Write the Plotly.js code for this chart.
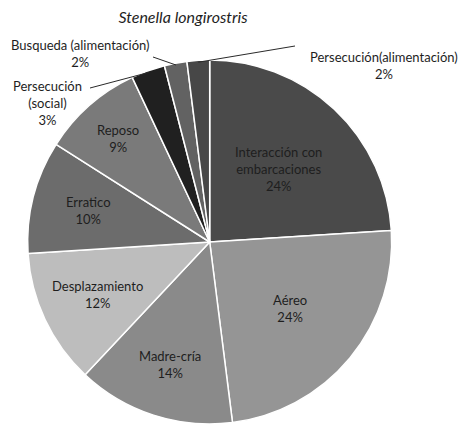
<!DOCTYPE html>
<html>
<head>
<meta charset="utf-8">
<script src="https://cdn.plot.ly/plotly-3.0.1.min.js"></script>
<style>
  html, body { margin: 0; padding: 0; background: #fff; }
  #chart { width: 458px; height: 424px; }
</style>
</head>
<body>
<div id="chart"></div>
<script>
// Behaviour categories of Stenella longirostris (clockwise from 12 o'clock)
var categories = [
  'Interacción con<br>embarcaciones',
  'Aéreo',
  'Madre-cría',
  'Desplazamiento',
  'Erratico',
  'Reposo',
  'Persecución<br>(social)',
  'Busqueda (alimentación)',
  'Persecución(alimentación)'
];
// Share of observations (%)
var shares = [24, 24, 14, 12, 10, 9, 3, 2, 2];

var sliceColors = ['#4a4a4a', '#959595', '#8a8a8a', '#bdbdbd', '#6c6c6c',
                   '#7a7a7a', '#202020', '#626262', '#474747'];

// Page geometry
var W = 458, H = 424;
var CX = 209.7, CY = 242, R = 182;   // pie centre and radius in px

// Label placement: radius as a fraction of R for inside labels
var insideRadius = [0.55, 0.57, 0.71, 0.68, 0.69, 0.76];
// Outside labels (index -> text centre in px and leader-line end in px)
var outsideLabels = {
  6: {tx: 47,  ty: 103, lx: 90,  ly: 88},
  7: {tx: 80,  ty: 53,  lx: 153, ly: 57},
  8: {tx: 384, ty: 65,  lx: 295, ly: 46}
};

function px2x(px) { return px / W; }
function py2y(py) { return 1 - py / H; }

var total = shares.reduce(function (a, b) { return a + b; }, 0);
var annotations = [];
var shapes = [];
var labelFont = {family: 'Lato, "Open Sans", sans-serif', size: 13, color: '#1e1e1e'};

var cum = 0;
shares.forEach(function (v, i) {
  var mid = (cum + v / 2) / total * 2 * Math.PI;   // clockwise from top
  cum += v;
  var pct = Math.round(v / total * 100) + '%';
  var text = categories[i] + '<br>' + pct;
  if (outsideLabels[i]) {
    var o = outsideLabels[i];
    var sx = CX + R * 0.99 * Math.sin(mid);
    var sy = CY - R * 0.99 * Math.cos(mid);
    shapes.push({
      type: 'line', xref: 'paper', yref: 'paper',
      x0: px2x(sx), y0: py2y(sy), x1: px2x(o.lx), y1: py2y(o.ly),
      line: {color: '#2a2a2a', width: 1}
    });
    annotations.push({
      xref: 'paper', yref: 'paper', x: px2x(o.tx), y: py2y(o.ty),
      xanchor: 'center', yanchor: 'middle', showarrow: false,
      text: text, font: labelFont, align: 'center'
    });
  } else {
    var r = R * insideRadius[i];
    annotations.push({
      xref: 'paper', yref: 'paper',
      x: px2x(CX + r * Math.sin(mid)), y: py2y(CY - r * Math.cos(mid)),
      xanchor: 'center', yanchor: 'middle', showarrow: false,
      text: text, font: labelFont, align: 'center'
    });
  }
});

var trace = {
  type: 'pie',
  labels: categories,
  values: shares,
  sort: false,
  direction: 'clockwise',
  rotation: 0,
  textinfo: 'none',
  hoverinfo: 'none',
  showlegend: false,
  marker: {colors: sliceColors, line: {color: '#ffffff', width: 1.5}},
  domain: {x: [px2x(CX - R), px2x(CX + R)], y: [py2y(CY + R), py2y(CY - R)]}
};

var layout = {
  width: W, height: H,
  margin: {l: 0, r: 0, t: 0, b: 0},
  paper_bgcolor: '#ffffff',
  title: {
    text: '<i>Stenella longirostris</i>',
    x: 183 / W, xanchor: 'center',
    y: 1 - 17 / H, yanchor: 'middle', yref: 'container',
    font: {family: 'Lato, "Open Sans", sans-serif', size: 16, color: '#1e1e1e'}
  },
  annotations: annotations,
  shapes: shapes
};

Plotly.newPlot('chart', [trace], layout, {displayModeBar: false, staticPlot: true});
</script>
</body>
</html>
